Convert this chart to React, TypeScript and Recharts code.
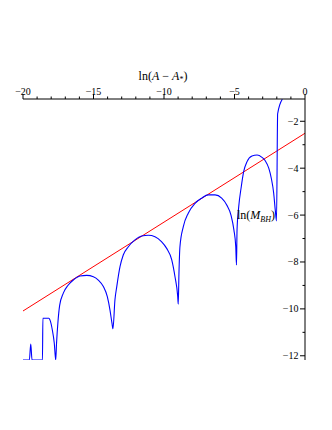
import React from 'react';
import { ComposedChart, Line, XAxis, YAxis } from 'recharts';

// Blue curve: ln(M_BH) against ln(A - A*)
const curveX = [
  -20.0, -19.55, -19.45, -19.36, -18.62, -18.59, -18.16, -18.09, -17.92, -17.78, -17.68,
  -17.62, -17.52, -17.4, -17.14, -16.79, -16.43, -15.96, -15.48, -15.01, -14.66, -14.3,
  -14.02, -13.83, -13.69, -13.62,
  -13.48, -13.35, -13.12, -12.89, -12.53, -12.06, -11.58, -11.11, -10.64, -10.18, -9.81,
  -9.45, -9.22, -9.03, -8.99,
  -8.94, -8.87, -8.63, -8.28, -7.8, -7.33, -6.86, -6.38, -5.91, -5.55, -5.25, -5.04,
  -4.91, -4.86,
  -4.82, -4.7, -4.52, -4.35, -4.11, -3.76, -3.4, -3.05, -2.82, -2.57, -2.39, -2.22,
  -2.11, -2.02,
  -1.94, -1.61,
];
const curveY = [
  -12.18, -12.18, -11.5, -12.18, -12.18, -10.4, -10.4, -10.47, -10.9, -11.47, -12.18,
  -11.45, -10.55, -9.85, -9.33, -8.98, -8.77, -8.6, -8.57, -8.63, -8.77, -9.05,
  -9.48, -10.05, -10.61, -10.85,
  -9.62, -9.05, -8.2, -7.7, -7.35, -7.06, -6.89, -6.86, -6.92, -7.13, -7.42,
  -7.91, -8.63, -9.45, -9.8,
  -8.5, -7.35, -6.49, -5.92, -5.5, -5.28, -5.14, -5.14, -5.28, -5.57, -6.0, -6.64,
  -7.35, -8.13,
  -6.64, -5.64, -4.79, -4.15, -3.72, -3.48, -3.44, -3.54, -3.68, -4.0, -4.43, -5.07,
  -5.78, -6.25,
  -1.68, -1.06,
];

// Red straight line
const fitX = [-20, 0];
const fitY = [-10.09, -2.51];

// Axis ticks
const xTicks = [-20, -19, -18, -17, -16, -15, -14, -13, -12, -11, -10, -9, -8, -7, -6, -5, -4, -3, -2, -1, 0];
const xLabelled = [-20, -15, -10, -5, 0];
const yTicks = [-12, -11, -10, -9, -8, -7, -6, -5, -4, -3, -2];
const yLabelled = [-12, -10, -8, -6, -4, -2];
const xDomain = [-20, 0];
const yDomain = [-12.18, -1.05];

const curveData = curveX.map((x, i) => ({ x, y: curveY[i] }));
const fitData = fitX.map((x, i) => ({ x, y: fitY[i] }));

const FONT = '"Liberation Serif", "Times New Roman", serif';
const fmt = (v: number) => (v < 0 ? '\u2212' + Math.abs(v) : String(v));

function XTick(props: any) {
  const { x, y, payload } = props;
  const v = payload.value;
  const major = xLabelled.includes(v);
  return (
    <g>
      <line x1={x} x2={x} y1={y} y2={y - (major ? 5 : 2.5)} stroke="#000" strokeWidth={1} />
      {major && (
        <text x={x} y={y - 4.5} textAnchor="middle" fontFamily={FONT} fontSize={10} fill="#000">
          {fmt(v)}
        </text>
      )}
    </g>
  );
}

function YTick(props: any) {
  const { x, y, payload } = props;
  const v = payload.value;
  const major = yLabelled.includes(v);
  return (
    <g>
      <line x1={x} x2={x - (major ? 5 : 2.5)} y1={y} y2={y} stroke="#000" strokeWidth={1} />
      {major && (
        <text x={x - 6.5} y={y} dy="0.35em" textAnchor="end" fontFamily={FONT} fontSize={10} fill="#000">
          {fmt(v)}
        </text>
      )}
    </g>
  );
}

export default function App() {
  return (
    <div style={{ position: 'absolute', left: 0, top: 0, width: 332, height: 430, background: '#fff' }}>
      <ComposedChart width={332} height={430} margin={{ top: 99, right: 27, bottom: 70, left: 23 }}>
        <XAxis
          type="number"
          dataKey="x"
          orientation="top"
          mirror
          domain={xDomain}
          ticks={xTicks}
          interval={0}
          allowDataOverflow
          tickSize={0}
          tickMargin={0}
          tickLine={false}
          axisLine={{ stroke: '#000', strokeWidth: 1 }}
          tick={<XTick />}
        />
        <YAxis
          type="number"
          dataKey="y"
          orientation="right"
          mirror
          domain={yDomain}
          ticks={yTicks}
          interval={0}
          allowDataOverflow
          tickSize={0}
          tickMargin={0}
          tickLine={false}
          axisLine={{ stroke: '#000', strokeWidth: 1 }}
          tick={<YTick />}
        />
        <Line
          data={fitData}
          dataKey="y"
          type="linear"
          stroke="#ff0000"
          strokeWidth={1}
          dot={false}
          isAnimationActive={false}
        />
        <Line
          data={curveData}
          dataKey="y"
          type="monotone"
          stroke="#0000ff"
          strokeWidth={1.1}
          dot={false}
          isAnimationActive={false}
        />
      </ComposedChart>
      <svg
        width={332}
        height={430}
        style={{ position: 'absolute', left: 0, top: 0, pointerEvents: 'none' }}
      >
        <text x={163} y={79.5} textAnchor="middle" fontFamily={FONT} fontSize={12} fill="#000">
          ln(<tspan fontStyle="italic">A</tspan> {'\u2212'} <tspan fontStyle="italic">A</tspan>
          <tspan fontSize={8} dy={2}>*</tspan>
          <tspan dy={-2}>)</tspan>
        </text>
        <text x={237} y={219} fontFamily={FONT} fontSize={12} fill="#000">
          ln(<tspan fontStyle="italic">M</tspan>
          <tspan fontStyle="italic" fontSize={8} dy={2.5}>BH</tspan>
          <tspan dy={-2.5}>)</tspan>
        </text>
      </svg>
    </div>
  );
}
